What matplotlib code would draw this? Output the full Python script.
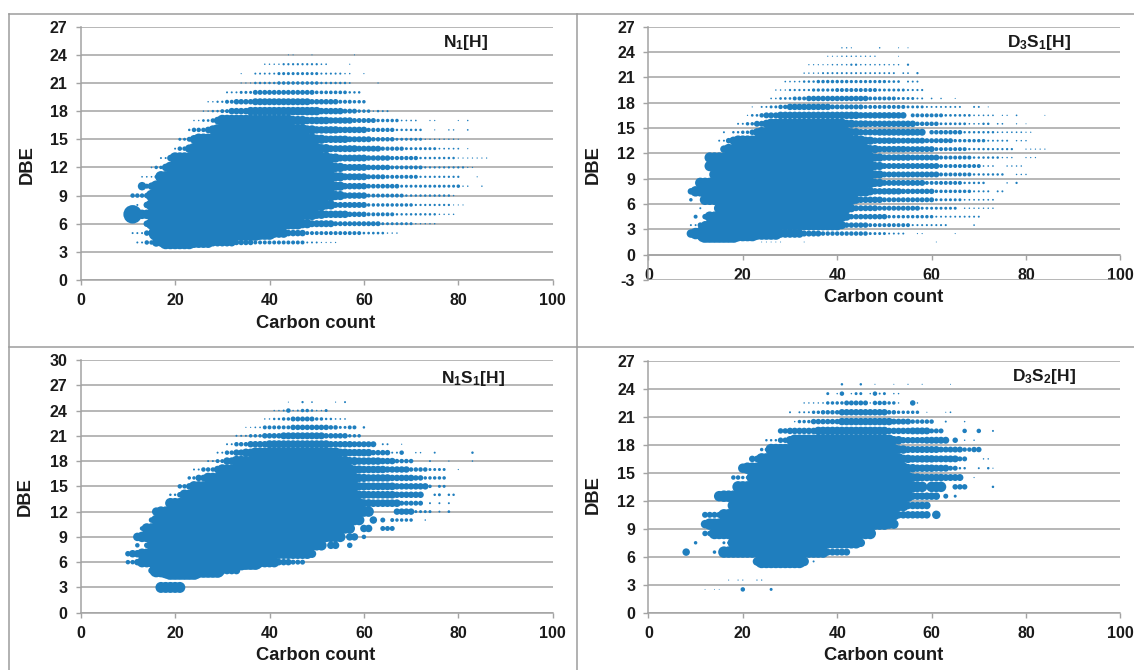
import matplotlib
matplotlib.use("Agg")
import matplotlib.pyplot as plt
from matplotlib.lines import Line2D
import numpy as np

W, H = 1134, 670
BLUE = "#1f7ebe"
GREY = "#a3a3a3"
plt.rcParams["font.family"] = "Liberation Sans"
plt.rcParams["font.weight"] = "bold"
plt.rcParams["mathtext.fontset"] = "custom"
plt.rcParams["mathtext.bf"] = "Liberation Sans:bold"
plt.rcParams["mathtext.rm"] = "Liberation Sans:bold"
plt.rcParams["mathtext.default"] = "bf"
plt.rcParams["axes.unicode_minus"] = False

# Each row: DBE -> runs of (first carbon, last carbon, bubble magnitude)
n1_rows = {
 24: [(44,45,.6),(49,49,.6),(58,58,.6)],
 23: [(39,42,1),(43,50,1.8),(51,52,1.2),(57,57,.7)],
 22: [(34,34,.7),(37,41,1.5),(42,50,2.6),(51,55,1.6),(56,57,1),(60,60,.7)],
 21: [(34,36,.8),(37,41,2),(42,50,3),(51,56,2),(57,57,1.3),(63,63,.8)],
 20: [(31,33,1.5),(34,36,2.5),(37,49,4.5),(50,56,3.2),(57,59,2)],
 19: [(27,28,1),(29,30,1.8),(31,32,3.5),(33,36,5),(37,48,6.5),(49,54,5),(55,57,3.5),(58,60,3)],
 18: [(26,27,1),(28,29,2),(30,31,3.5),(32,35,6),(36,50,8),(51,55,6),(56,58,4.5),(59,61,3),(62,62,1),(63,63,2),(64,65,1.5)],
 17: [(24,25,1),(26,27,2.2),(28,28,4),(29,29,7),(30,44,11),(45,47,8.7),(48,52,7),(53,57,6),(58,62,4.5),(63,67,3),(68,71,1.2),(74,75,.8),(80,80,.7),(82,82,1)],
 16: [(23,23,2),(24,26,4),(27,27,6),(28,28,8.7),(29,47,11),(48,49,8.7),(50,54,7),(55,60,6),(61,66,3.8),(67,72,2),(75,75,.7),(78,79,1),(82,82,1.2)],
 15: [(21,22,2.5),(23,23,4.5),(24,24,8),(25,49,11),(50,51,8.7),(52,56,7),(57,61,5.5),(62,66,4),(67,72,2.5),(73,79,1),(80,80,.7)],
 14: [(20,20,1.5),(21,22,4),(23,23,8),(24,50,11),(51,52,8.7),(53,58,6.5),(59,63,5.5),(64,68,3.8),(69,75,2.5),(76,80,1.3),(82,82,.7)],
 13: [(17,18,1.5),(19,19,6),(20,52,11),(53,54,8.7),(55,60,6.5),(61,65,5),(66,71,3.8),(72,79,2),(80,86,.8)],
 12: [(15,15,1.2),(16,17,3),(18,18,7),(19,53,11),(54,55,8.7),(56,60,6.5),(61,65,5),(66,72,3.5),(73,81,1.8),(82,83,.8)],
 11: [(13,15,1.2),(16,16,3),(17,53,11),(54,55,8.7),(56,60,6.5),(61,64,4.5),(65,71,3.5),(72,80,1.8),(84,84,.7)],
 10: [(13,13,8),(14,14,4.5),(15,15,7),(16,53,11),(54,55,8.7),(56,60,6),(61,67,4.2),(68,79,2.5),(80,80,3),(81,82,1),(85,85,1)],
 9: [(11,13,4),(14,14,5),(15,53,11),(54,55,8.7),(56,60,6),(61,68,3.5),(69,78,2),(79,79,1)],
 8: [(12,12,1.5),(14,14,6),(15,51,11),(52,53,8.7),(54,60,5.5),(61,70,3),(71,78,1.8),(79,81,.7)],
 7: [(11,11,18),(13,14,9),(15,49,11),(50,51,8.7),(52,56,7),(57,60,5),(61,66,3.5),(67,75,2),(76,79,1)],
 6: [(14,14,6),(15,46,11),(47,48,8.7),(49,53,6.5),(54,63,4.5),(64,70,2.5),(71,75,1)],
 5: [(11,13,1.5),(14,15,5),(16,37,15),(38,40,13),(41,43,9),(44,47,6),(48,59,3.5),(60,64,2.2),(65,67,1)],
 4: [(12,13,1.5),(14,15,4),(16,17,8),(18,23,13),(24,27,10.5),(28,32,7.5),(33,36,5),(37,47,3.5),(48,50,1.5),(51,54,.8)],
}

d3s1_rows = {
 24.5: [(41,42,.9),(43,43,.7),(49,49,1),(53,53,.6),(55,55,.6)],
 23.5: [(38,40,.7),(41,44,1),(45,48,.9),(53,53,.5)],
 22.5: [(34,38,.8),(39,42,1.1),(43,44,1.8),(45,50,1.1),(51,53,1),(55,55,1.8)],
 21.5: [(33,36,1),(37,44,1.6),(45,52,1.5),(54,55,1.3),(57,57,1.8)],
 20.5: [(29,32,1.2),(33,35,2),(36,42,3),(43,50,2.8),(51,53,2.2),(55,57,1.5)],
 19.5: [(27,29,1),(30,34,1.8),(35,39,2.8),(40,48,3.5),(49,54,2.5),(55,58,1.7)],
 18.5: [(26,27,1.2),(28,30,2.2),(31,33,3.5),(34,46,5),(47,52,3.5),(53,56,2.5),(57,58,1.5),(60,60,1.2),(62,62,1),(65,65,.6)],
 17.5: [(22,22,.7),(24,25,1.5),(26,27,2.5),(28,29,4),(30,38,6),(39,45,4.5),(46,54,3.5),(55,58,2.5),(59,66,1.5),(69,70,1.5),(72,72,.6)],
 16.5: [(21,21,.8),(22,23,2.2),(24,24,4),(25,27,5.5),(28,44,7),(45,54,6),(56,62,3.5),(63,68,2.2),(69,73,1.2),(75,76,.8),(78,78,1.2),(84,84,.5)],
 15.5: [(19,20,1.5),(21,22,3),(23,24,5.5),(25,25,7.7),(26,41,10),(42,43,7.7),(44,46,6.5),(47,56,6),(57,61,4),(62,67,2.3),(68,70,1.2),(71,72,2),(74,75,1.2),(78,78,.8),(80,80,.5)],
 14.5: [(16,16,1.5),(18,19,2),(20,21,3),(22,22,5),(23,23,7.7),(24,42,10),(43,44,7.7),(45,48,6),(49,58,6.5),(60,66,4),(67,73,2),(74,79,1.2),(80,81,.8)],
 13.5: [(15,16,1.5),(17,17,5),(18,18,7.7),(19,45,10),(46,47,7.7),(48,52,6),(53,58,5.5),(59,64,4.5),(65,71,3),(72,76,1.5),(78,80,1)],
 12.5: [(16,16,7),(17,46,10),(47,48,7.7),(49,54,6),(55,60,5.5),(61,67,3.5),(68,72,2),(73,77,1.8),(80,84,.8)],
 11.5: [(13,47,10),(48,49,7.7),(50,55,6),(56,61,5.5),(62,68,3.5),(69,74,2),(75,77,1),(80,82,.8)],
 10.5: [(13,47,10),(48,49,7.7),(50,61,5.5),(62,70,3.5),(71,73,1.2),(76,79,1)],
 9.5: [(14,47,10),(48,49,7.7),(50,61,5.5),(62,68,3.5),(69,75,2),(78,80,1)],
 8.5: [(11,47,10),(48,49,7.7),(50,58,5.5),(59,66,3.5),(67,71,2),(76,76,1),(78,78,1.8)],
 7.5: [(9,9,6),(10,46,10),(47,47,7.7),(48,53,6),(54,60,5),(61,68,3),(69,72,1.6),(74,75,1.5)],
 6.5: [(9,9,3),(12,43,10),(44,44,7.7),(45,49,6),(50,60,4.5),(61,66,2.5),(67,73,1.3)],
 5.5: [(11,11,1.5),(15,42,10),(43,43,7.7),(44,48,5.5),(49,57,4.5),(58,65,2.5),(67,73,1)],
 4.5: [(10,10,3.5),(12,12,5),(13,41,10),(42,42,7.7),(43,50,5),(51,60,3),(61,70,1.5)],
 3.5: [(9,10,1.5),(11,11,5),(12,12,7.7),(13,40,10),(41,41,7.7),(42,46,5),(47,55,3.5),(56,63,1.6),(69,69,1.2)],
 2.5: [(9,9,8),(10,11,11),(12,18,18),(19,22,15),(23,27,12),(28,32,8),(33,36,5.5),(37,46,4),(47,50,2.5),(51,54,1.5),(57,58,.7),(65,65,.6)],
 1.5: [(24,28,.5),(33,33,.5),(61,61,.5)],
}

n1s1_rows = {
 25: [(44,44,.6),(47,47,1.8),(49,49,1.2),(54,54,.7),(56,56,1.5)],
 24: [(41,42,1),(43,43,1.5),(44,44,4),(45,45,1),(46,46,1.5),(47,48,3),(49,49,2),(50,51,1),(52,52,2.5)],
 23: [(39,40,1),(41,42,2),(43,44,3),(45,49,4.5),(50,51,3),(52,53,2),(54,56,1.2)],
 22: [(35,36,.7),(37,38,1.2),(39,44,3.5),(45,52,5),(53,54,4),(55,56,2.5),(57,58,3.5),(60,60,2)],
 21: [(33,35,1.5),(36,38,3),(39,42,5),(43,51,6.5),(52,56,5),(57,59,3)],
 20: [(31,32,1.5),(33,35,4),(36,39,6),(40,52,7.5),(53,57,6),(58,62,5.5),(64,65,1.5),(68,68,.7)],
 19: [(29,30,1.5),(31,32,4),(33,34,6),(35,36,7.7),(37,54,10),(55,56,7.7),(57,61,7),(62,65,5),(66,67,1.5),(68,68,4),(71,72,1),(75,75,1.5),(83,83,2)],
 18: [(27,28,1.5),(29,30,3.5),(31,32,7),(33,56,10),(57,58,7.7),(59,63,7),(64,66,6),(67,70,4),(74,74,1.5),(78,78,.8),(83,83,1)],
 17: [(24,25,1.5),(26,28,4),(29,29,7),(30,57,10),(58,59,7.7),(60,64,7),(65,69,6),(70,73,4),(74,77,2.5),(80,80,.7)],
 16: [(23,24,3),(25,26,6),(27,58,10),(59,60,7.7),(61,65,7),(66,70,6),(71,72,5),(73,77,3)],
 15: [(21,22,4),(23,23,6),(24,58,10),(59,60,7.7),(61,66,7.2),(67,71,6),(72,73,6),(74,74,3),(76,77,2.5)],
 14: [(19,20,2),(21,21,5),(22,58,10),(59,60,7.7),(61,66,7.2),(67,72,6),(75,75,2),(76,76,2.5),(78,79,2)],
 13: [(19,59,10),(60,61,7.7),(62,67,7.2),(68,72,4.5),(74,74,1.5),(76,76,1.5),(78,78,1.5)],
 12: [(16,16,8),(17,61,10),(67,70,6),(71,74,2.5),(76,76,1.5),(78,78,2.2)],
 11: [(15,15,5),(16,59,10),(62,62,7),(64,64,4.5),(66,66,3.5),(67,70,3),(73,73,1)],
 10: [(13,13,4),(14,57,10),(60,61,7),(64,66,4.5)],
 9: [(12,12,8),(13,55,10),(57,58,7),(60,60,4)],
 8: [(12,12,4),(14,14,5),(15,51,10),(53,54,7),(57,57,5)],
 7: [(10,10,5),(11,12,7),(13,48,10),(49,49,8)],
 6: [(10,11,4),(12,12,6),(13,15,10),(16,34,16),(35,37,15),(38,41,10),(42,44,6),(45,47,4.5)],
 5: [(15,15,6),(16,17,13),(18,18,15),(19,24,18),(25,29,14),(30,33,7)],
 3: [(17,21,10.5)],
}

d3s2_rows = {
 24.5: [(41,41,2),(45,45,2),(48,48,.6),(52,52,.5),(55,55,.7),(58,58,.6),(64,64,.5)],
 23.5: [(38,38,2.5),(40,40,1),(41,41,4),(43,43,1),(44,45,2.5),(47,47,1),(48,48,4),(49,49,1.5),(50,50,2.5),(52,53,1)],
 22.5: [(33,36,1),(37,37,1.2),(38,41,3),(42,46,4.5),(47,47,1),(48,50,4),(51,52,3),(53,53,1),(56,56,5),(57,57,1)],
 21.5: [(30,30,1.5),(32,34,1.5),(35,36,3),(37,40,4),(41,50,6),(51,52,4),(53,55,3),(56,57,3),(59,59,.6),(63,63,.6),(64,64,1.2)],
 20.5: [(31,31,1),(32,34,3),(35,40,5),(41,51,7),(52,55,5.5),(56,60,4),(63,63,1.5),(67,67,1)],
 19.5: [(28,29,5),(30,35,6),(36,50,8),(51,55,6),(56,59,6.5),(60,62,4.5),(67,67,4),(70,70,4),(73,73,1.5)],
 18.5: [(25,27,2),(28,29,5),(30,30,8),(31,51,11),(52,53,8),(54,58,6),(59,63,6.5),(65,65,5),(67,67,1),(69,69,1)],
 17.5: [(24,25,3),(26,52,11),(53,54,8),(55,61,6.5),(62,66,5.5),(67,68,4),(69,70,5)],
 16.5: [(22,23,6),(24,53,11),(54,55,8),(56,60,7),(61,65,6.5),(66,67,4.5),(71,72,1)],
 15.5: [(20,20,9),(21,54,11),(55,56,8),(57,60,7),(61,63,6.5),(64,65,4.5),(66,67,2),(70,70,1.5),(72,72,2),(73,73,.7)],
 14.5: [(18,19,4),(20,21,3),(22,55,11),(56,57,8),(58,62,7),(63,66,6.5),(69,69,.7)],
 13.5: [(19,56,11),(57,58,10),(60,62,10),(65,67,5),(73,73,2)],
 12.5: [(15,15,10),(16,55,11),(56,61,7),(63,63,4.5),(65,65,2.5)],
 11.5: [(18,54,11),(55,59,7)],
 10.5: [(12,15,5.5),(16,52,11),(53,54,7),(55,59,7),(61,61,8)],
 9.5: [(12,12,8),(13,50,11),(51,52,9)],
 8.5: [(12,13,5),(14,47,11)],
 7.5: [(10,10,3),(16,17,2.5),(18,44,11),(45,45,8)],
 6.5: [(8,8,7),(14,14,3),(16,37,11),(38,42,6.5)],
 5.5: [(23,23,8),(24,32,13),(33,33,9),(35,35,1.5)],
 3.5: [(17,17,.6),(19,20,.7),(23,24,.8)],
 2.5: [(12,12,.4),(14,15,.4),(20,20,4),(26,26,2.5)],
}

titles = [r"$\mathbf{N_1[H]}$", r"$\mathbf{D_3S_1[H]}$", r"$\mathbf{N_1S_1[H]}$", r"$\mathbf{D_3S_2[H]}$"]
x_ticks = [0, 20, 40, 60, 80, 100]
y_ticks_n1 = [0, 3, 6, 9, 12, 15, 18, 21, 24, 27]
y_ticks_d3s1 = [-3, 0, 3, 6, 9, 12, 15, 18, 21, 24, 27]
y_ticks_n1s1 = [0, 3, 6, 9, 12, 15, 18, 21, 24, 27, 30]
y_ticks_d3s2 = [0, 3, 6, 9, 12, 15, 18, 21, 24, 27]

panels = [
    (n1_rows, y_ticks_n1, (80.7, 552.7, 26.7, 280.0), (466, 43), (27, 165), (316, 323), titles[0]),
    (d3s1_rows, y_ticks_d3s1, (648.4, 1120.4, 26.7, 280.0), (1039, 42), (593, 165), (884, 298), titles[1]),
    (n1s1_rows, y_ticks_n1s1, (80.7, 552.7, 360.0, 612.7), (473, 378), (25, 497), (316, 655), titles[2]),
    (d3s2_rows, y_ticks_d3s2, (648.4, 1120.4, 361.0, 612.7), (1044, 377), (593, 495), (884, 655), titles[3]),
]

fig = plt.figure(figsize=(W / 100, H / 100), dpi=100, facecolor="white")

def fx(p): return p / W
def fy(p): return 1 - p / H

for rows, yt, (l, r, t, b), tp, yp, xp, title in panels:
    ax = fig.add_axes([fx(l), fy(b), (r - l) / W, (b - t) / H])
    xs, ys, ds = [], [], []
    for dbe, runs in rows.items():
        for c0, c1, d in runs:
            for c in range(c0, c1 + 1):
                xs.append(c); ys.append(dbe); ds.append(d)
    ds = np.array(ds)
    ax.scatter(xs, ys, s=((ds + 0.5) * 0.72) ** 2, color=BLUE, linewidths=0, zorder=3, clip_on=False)
    ax.set_xlim(0, 100)
    ax.set_ylim(yt[0], yt[-1])
    ax.set_xticks(x_ticks)
    ax.set_yticks(yt)
    ax.grid(axis="y", color=GREY, lw=1.1, zorder=0)
    ax.set_axisbelow(True)
    for s in ("top", "right"):
        ax.spines[s].set_visible(False)
    for s in ("left", "bottom"):
        ax.spines[s].set_color(GREY)
        ax.spines[s].set_linewidth(1.1)
    ax.spines["bottom"].set_position(("data", 0))
    ax.tick_params(axis="both", colors=GREY, labelcolor="#1a1a1a", labelsize=11.5, length=3.5, width=1.0)
    ax.tick_params(axis="x", pad=6)
    ax.tick_params(axis="y", pad=6)
    ax.patch.set_alpha(0)
    fig.text(fx(tp[0]), fy(tp[1]), title, ha="center", va="center", fontsize=12.5, color="#1a1a1a")
    fig.text(fx(yp[0]), fy(yp[1]), "DBE", rotation=90, ha="center", va="center", fontsize=13.2, color="#1a1a1a")
    fig.text(fx(xp[0]), fy(xp[1]), "Carbon count", ha="center", va="center", fontsize=13.2, color="#1a1a1a")

frame = [((9, W), (14, 14)), ((9, 9), (14, H)), ((577, 577), (14, H)), ((9, W), (347, 347))]
for xx, yy in frame:
    fig.add_artist(Line2D([fx(v) for v in xx], [fy(v) for v in yy], color="#9c9c9c", lw=1.1))

fig.savefig("out.png", dpi=100)
